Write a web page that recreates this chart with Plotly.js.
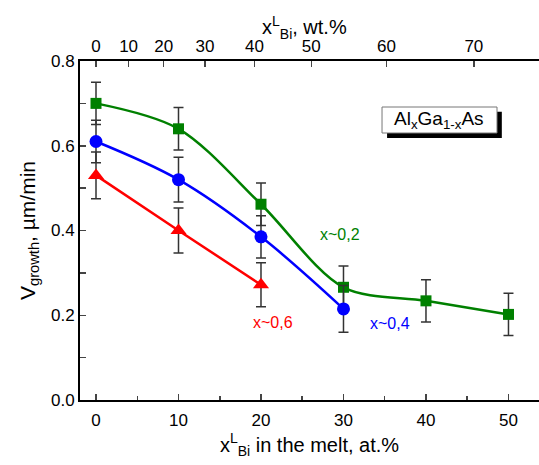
<!DOCTYPE html>
<html>
<head>
<meta charset="utf-8">
<script src="https://cdn.plot.ly/plotly-3.0.1.min.js"></script>
<style>html,body{margin:0;padding:0;background:#fff;}#chart{width:539px;height:465px;}</style>
</head>
<body>
<div id="chart"></div>
<script>
// at.% of Bi in the melt
const xAt = [0, 10, 20, 30, 40, 50];
// x~0,2 (green squares)
const xGreen = [0, 10, 20, 30, 40, 50];
const vGreen = [0.70, 0.64, 0.462, 0.266, 0.234, 0.202];
const eGreen = [0.05, 0.05, 0.05, 0.05, 0.05, 0.05];
// x~0,4 (blue circles)
const xBlue = [0, 10, 20, 30];
const vBlue = [0.61, 0.52, 0.385, 0.215];
const eBlue = [0.05, 0.053, 0.05, 0.055];
// x~0,6 (red triangles)
const xRed = [0, 10, 20];
const vRed = [0.53, 0.40, 0.272];
const eRed = [0.055, 0.053, 0.052];
// top axis: wt.% labels and their positions on the at.% scale
const wtLabels = ['0', '10', '20', '30', '40', '50', '60', '70'];
const wtPosAt = [0, 3.95, 8.2, 13.2, 19.2, 26.1, 35.2, 45.8];

const FONT = 'Liberation Sans, Arial, sans-serif';
const errStyle = (arr) => ({type: 'data', array: arr, visible: true, color: '#333', thickness: 1.5, width: 5});

const traces = [
  {x: xGreen, y: vGreen, mode: 'lines+markers', line: {color: '#008000', width: 2.5, shape: 'spline', smoothing: 0.9},
   marker: {symbol: 'square', size: 11, color: '#008000'}, error_y: errStyle(eGreen), showlegend: false},
  {x: xBlue, y: vBlue, mode: 'lines+markers', line: {color: '#0000ff', width: 2.5, shape: 'spline', smoothing: 1},
   marker: {symbol: 'circle', size: 13, color: '#0000ff'}, error_y: errStyle(eBlue), showlegend: false},
  {x: xRed, y: vRed, mode: 'lines+markers', line: {color: '#ff0000', width: 2.5, shape: 'spline', smoothing: 1},
   marker: {symbol: 'triangle-up', size: 14, color: '#ff0000'}, error_y: errStyle(eRed), showlegend: false},
  {x: [0], y: [0], xaxis: 'x2', mode: 'markers', marker: {opacity: 0}, hoverinfo: 'skip', showlegend: false}
];

const xr = [-1.94, 53.7];
const layout = {
  width: 539, height: 465,
  margin: {l: 80, r: 0, t: 61, b: 65},
  paper_bgcolor: '#fff', plot_bgcolor: '#fff',
  font: {family: FONT, size: 17, color: '#000'},
  xaxis: {
    range: xr, tickvals: xAt, ticktext: xAt.map(String), ticks: 'inside', ticklen: 6, tickwidth: 1.5,
    showline: true, linewidth: 2, linecolor: '#000', showgrid: false, zeroline: false, mirror: false,
    minor: {dtick: 5, tick0: 0, ticks: 'inside', ticklen: 4, tickwidth: 1.5, showgrid: false},
    tickfont: {size: 17}, ticklabelstandoff: 4,
    title: {text: 'x<sup>L</sup><sub>Bi</sub> in the melt, at.%', font: {size: 20}, standoff: 6}
  },
  xaxis2: {
    overlaying: 'x', side: 'top', anchor: 'y', range: xr, tickmode: 'array', tickvals: wtPosAt, ticktext: wtLabels,
    ticks: 'inside', ticklen: 6, tickwidth: 1.5, showline: true, linewidth: 2, linecolor: '#000',
    showgrid: false, zeroline: false, tickfont: {size: 17}, ticklabelstandoff: 0
  },
  yaxis: {
    range: [0, 0.8], dtick: 0.2, tick0: 0, tickformat: '.1f', ticks: 'inside', ticklen: 6, tickwidth: 1.5,
    showline: true, linewidth: 2, linecolor: '#000', showgrid: false, zeroline: false,
    minor: {dtick: 0.1, ticks: 'inside', ticklen: 6, tickwidth: 1.5, showgrid: false},
    tickfont: {size: 17},
    title: {text: 'V<sub>growth</sub>, µm/min', font: {size: 21}, standoff: 10}
  },
  shapes: [
    {type: 'rect', xref: 'paper', yref: 'paper', x0: 0.669, x1: 0.919, y0: 0.773, y1: 0.850,
     fillcolor: '#000', line: {width: 0}, layer: 'above'},
    {type: 'rect', xref: 'paper', yref: 'paper', x0: 0.658, x1: 0.9085, y0: 0.7876, y1: 0.8643,
     fillcolor: '#fff', line: {color: '#777', width: 1}, layer: 'above'}
  ],
  annotations: [
    {x: 0.49, y: 1.10, xref: 'paper', yref: 'paper', xanchor: 'center', yanchor: 'middle',
     text: 'x<sup>L</sup><sub>Bi</sub>, wt.%', showarrow: false, font: {size: 20, color: '#000'}},
    {x: 29.6, y: 0.39, xref: 'x', yref: 'y', text: 'x~0,2', showarrow: false, font: {size: 16, color: '#008000'}},
    {x: 35.6, y: 0.18, xref: 'x', yref: 'y', text: 'x~0,4', showarrow: false, font: {size: 16, color: '#0000ff'}},
    {x: 21.5, y: 0.184, xref: 'x', yref: 'y', text: 'x~0,6', showarrow: false, font: {size: 16, color: '#ff0000'}},
    {x: 0.783, y: 0.826, xref: 'paper', yref: 'paper', xanchor: 'center', yanchor: 'middle',
     text: 'Al<sub>x</sub>Ga<sub>1-x</sub>As', showarrow: false, font: {size: 19, color: '#000'}}
  ]
};

Plotly.newPlot('chart', traces, layout, {displayModeBar: false, staticPlot: true});
</script>
</body>
</html>
